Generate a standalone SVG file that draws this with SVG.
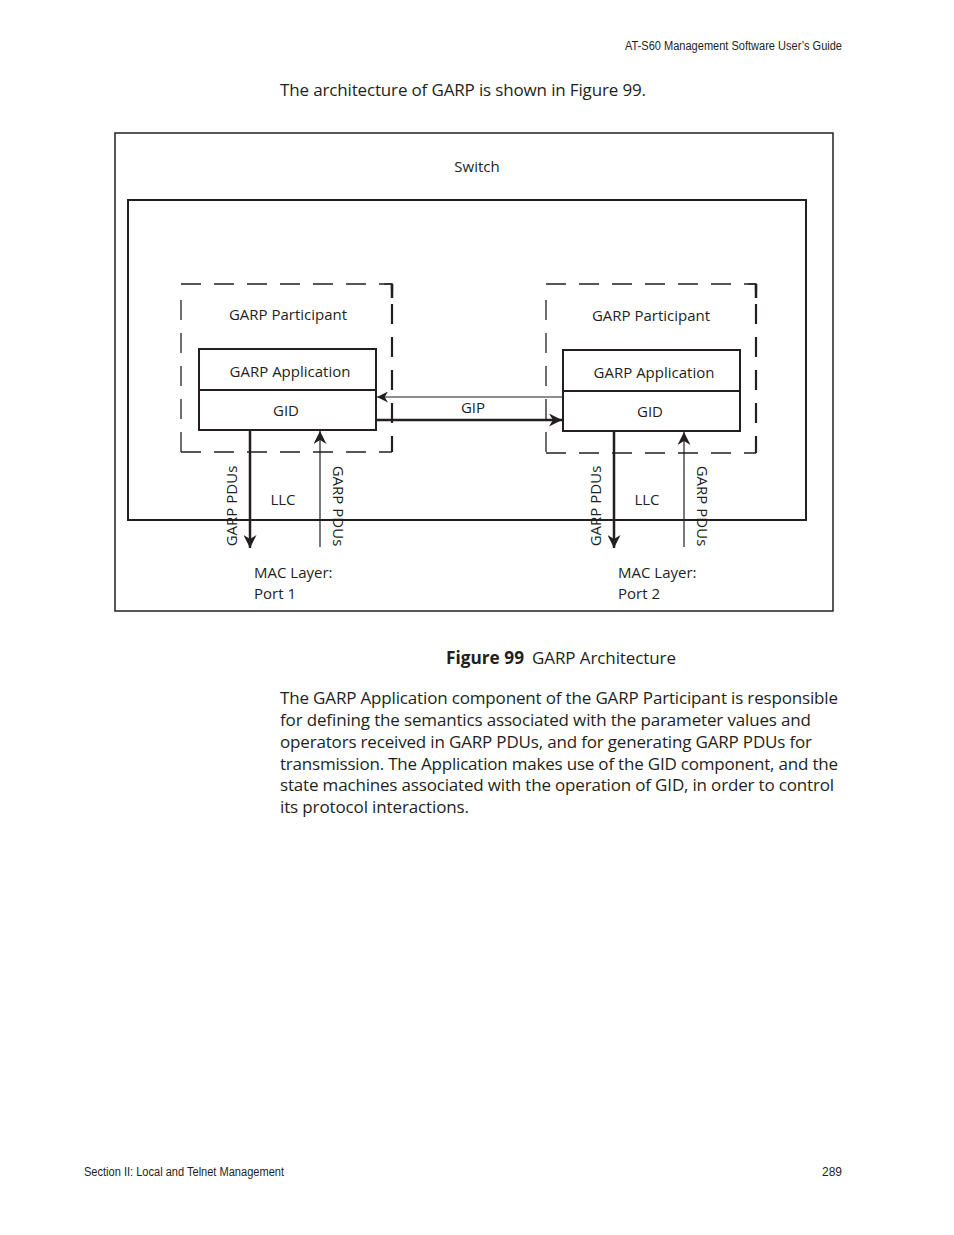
<svg xmlns="http://www.w3.org/2000/svg" width="954" height="1235" viewBox="0 0 954 1235">
<style>
text{font-family:"Open Sans","Noto Sans",sans-serif;fill:#231f20}
.lbl{font-size:15px}
.mid{text-anchor:middle}
.body{font-size:17px}
.hdr{font-family:"Liberation Sans",Arial,sans-serif;font-size:12px}
.box{fill:#fff;stroke:#231f20;stroke-width:2}
.dash{fill:none;stroke:#231f20;stroke-width:1.3;stroke-dasharray:20 13}
.dashb{fill:none;stroke:#231f20;stroke-width:2.2;stroke-dasharray:20 13}
.thin{stroke:#231f20;stroke-width:1.2;fill:none}
.thick{stroke:#231f20;stroke-width:2.5;fill:none}
</style>
<defs>
<marker id="ah" viewBox="0 0 10 10" refX="10" refY="5" markerWidth="11" markerHeight="11" markerUnits="userSpaceOnUse" orient="auto"><path d="M0,0 L10,5 L0,10 L3,5 Z" fill="#231f20"/></marker>
<marker id="ahb" viewBox="0 0 10 10" refX="10" refY="5" markerWidth="13" markerHeight="13" markerUnits="userSpaceOnUse" orient="auto"><path d="M0,0 L10,5 L0,10 L3,5 Z" fill="#231f20"/></marker>
</defs>
<rect width="954" height="1235" fill="#fff"/>
<text class="hdr" x="842" y="50" text-anchor="end" textLength="217" lengthAdjust="spacingAndGlyphs">AT-S60 Management Software User’s Guide</text>
<text class="body" x="280" y="96" textLength="366" lengthAdjust="spacing">The architecture of GARP is shown in Figure 99.</text>

<g id="switch">
<rect x="115" y="133" width="718" height="478" fill="none" stroke="#231f20" stroke-width="1.5"/>
<text class="lbl mid" x="477" y="172">Switch</text>
</g>
<g id="llc-area">
<rect x="128" y="200" width="678" height="320" fill="none" stroke="#231f20" stroke-width="2"/>
</g>

<g id="participant1">
<line class="dash" x1="181" y1="284" x2="392" y2="284"/>
<line class="dash" x1="181" y1="300" x2="181" y2="452"/>
<line class="dash" x1="181" y1="452" x2="392" y2="452"/>
<line class="dashb" x1="392" y1="284" x2="392" y2="452" stroke-dashoffset="-20"/>
<line class="thick" x1="392" y1="284" x2="392" y2="298" stroke-width="2.2"/>
<line class="thin" x1="384" y1="284" x2="393" y2="284"/>
<text class="lbl mid" x="288" y="320">GARP Participant</text>
</g>
<g id="app1">
<rect class="box" x="199" y="349" width="177" height="41"/>
<text class="lbl mid" x="290" y="377">GARP Application</text>
</g>
<g id="gid1">
<rect class="box" x="199" y="390" width="177" height="40"/>
<text class="lbl mid" x="286" y="416">GID</text>
</g>

<g id="participant2">
<line class="dash" x1="546" y1="284" x2="756" y2="284"/>
<line class="dash" x1="546" y1="300" x2="546" y2="453"/>
<line class="dash" x1="546" y1="453" x2="756" y2="453"/>
<line class="dashb" x1="756" y1="284" x2="756" y2="453" stroke-dashoffset="-20"/>
<line class="thick" x1="756" y1="284" x2="756" y2="298" stroke-width="2.2"/>
<line class="thin" x1="748" y1="284" x2="757" y2="284"/>
<text class="lbl mid" x="651" y="321">GARP Participant</text>
</g>
<g id="app2">
<rect class="box" x="563" y="350" width="177" height="41"/>
<text class="lbl mid" x="654" y="378">GARP Application</text>
</g>
<g id="gid2">
<rect class="box" x="563" y="391" width="177" height="40"/>
<text class="lbl mid" x="650" y="417">GID</text>
</g>

<g id="connectors">
<line class="thin" x1="563" y1="397" x2="377" y2="397" marker-end="url(#ah)"/>
<line class="thick" x1="377" y1="420" x2="562" y2="420" marker-end="url(#ahb)"/>
<text class="lbl mid" x="473" y="413">GIP</text>
<line class="thick" x1="250" y1="431" x2="250" y2="548" marker-end="url(#ahb)"/>
<line class="thin" x1="320" y1="547" x2="320" y2="431" marker-end="url(#ahb)"/>
<line class="thick" x1="614" y1="432" x2="614" y2="548" marker-end="url(#ahb)"/>
<line class="thin" x1="684" y1="547" x2="684" y2="432" marker-end="url(#ahb)"/>
</g>

<g id="port1">
<text class="lbl mid" transform="translate(237,506) rotate(-90)">GARP PDUs</text>
<text class="lbl mid" transform="translate(333,506) rotate(90)">GARP PDUs</text>
<text class="lbl mid" x="283" y="505">LLC</text>
<text class="lbl" x="254" y="578">MAC Layer:</text>
<text class="lbl" x="254" y="599">Port 1</text>
</g>
<g id="port2">
<text class="lbl mid" transform="translate(601,506) rotate(-90)">GARP PDUs</text>
<text class="lbl mid" transform="translate(697,506) rotate(90)">GARP PDUs</text>
<text class="lbl mid" x="647" y="505">LLC</text>
<text class="lbl" x="618" y="578">MAC Layer:</text>
<text class="lbl" x="618" y="599">Port 2</text>
</g>

<text class="body" x="446" y="664" font-weight="bold" textLength="78" lengthAdjust="spacingAndGlyphs">Figure 99</text>
<text class="body" x="532" y="664" textLength="144" lengthAdjust="spacing">GARP Architecture</text>
<g class="para">
<text class="body" x="280" y="704" textLength="558" lengthAdjust="spacing">The GARP Application component of the GARP Participant is responsible</text>
<text class="body" x="280" y="726" textLength="531" lengthAdjust="spacing">for defining the semantics associated with the parameter values and</text>
<text class="body" x="280" y="748" textLength="532" lengthAdjust="spacing">operators received in GARP PDUs, and for generating GARP PDUs for</text>
<text class="body" x="280" y="770" textLength="558" lengthAdjust="spacing">transmission. The Application makes use of the GID component, and the</text>
<text class="body" x="280" y="791" textLength="554" lengthAdjust="spacing">state machines associated with the operation of GID, in order to control</text>
<text class="body" x="280" y="813" textLength="189" lengthAdjust="spacing">its protocol interactions.</text>
</g>
<text class="hdr" x="84" y="1176" textLength="200" lengthAdjust="spacingAndGlyphs">Section II: Local and Telnet Management</text>
<text class="hdr" x="842" y="1176" text-anchor="end">289</text>
</svg>
